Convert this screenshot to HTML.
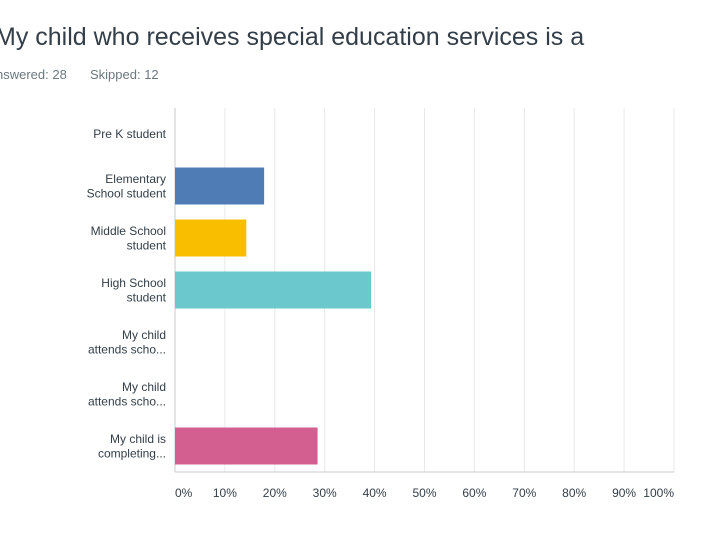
<!DOCTYPE html>
<html><head><meta charset="utf-8"><style>
body{margin:0;background:#fff;width:720px;height:535px;overflow:hidden;font-family:"Liberation Sans",sans-serif}
</style></head><body>
<svg width="720" height="535">
<text x="-5" y="45" font-size="25" fill="#333e48">My child who receives special education services is a</text>
<text x="-4" y="79" font-size="13" fill="#6b787f">nswered: 28</text>
<text x="90" y="79" font-size="13" fill="#6b787f">Skipped: 12</text>
<g id="grid"></g><g id="bars"></g><g id="labels"></g><g id="ticks"></g>
</svg>
<script>
const categories=[["Pre K student"],["Elementary","School student"],["Middle School","student"],["High School","student"],["My child","attends scho..."],["My child","attends scho..."],["My child is","completing..."]];
const values=[0,17.86,14.29,39.29,0,0,28.57];
const colors=["#507cb6","#507cb6","#f9be00","#6bc8cd","#507cb6","#507cb6","#d25f90"];
const tickValues=[0,10,20,30,40,50,60,70,80,90,100];
const tickLabels=["0%","10%","20%","30%","40%","50%","60%","70%","80%","90%","100%"];
const x0=175,x1=674,yTop=108,yBot=472;
const ns="http://www.w3.org/2000/svg";
const xs=v=>x0+(x1-x0)*v/100;
const band=(yBot-yTop)/categories.length;
const yc=i=>yTop+band*(i+0.5);
function mk(t,a,p){const e=document.createElementNS(ns,t);for(const k in a)e.setAttribute(k,a[k]);document.getElementById(p).appendChild(e);return e;}
tickValues.forEach((v,i)=>{
 if(v>0){const g=mk("line",{x1:xs(v),x2:xs(v),y1:yTop,y2:yBot,stroke:"#e8e8e8","stroke-width":1},"grid");
 
 }
 let anchor="middle",x=xs(v);
 if(i===0){anchor="start";x=x0;} if(i===tickValues.length-1){anchor="end";x=x1;}
 const t=mk("text",{x:x,y:497,"font-size":12,fill:"#333e48","text-anchor":anchor},"ticks");
 t.textContent=tickLabels[i];
 
 
});
const ax=mk("line",{x1:x0,x2:x0,y1:yTop,y2:yBot,stroke:"#c8c8c8"},"grid");


const bx=mk("line",{x1:x0,x2:x1,y1:yBot,y2:yBot,stroke:"#c8c8c8"},"grid");


categories.forEach((c,i)=>{
 if(values[i]>0){const r=mk("rect",{x:x0,y:yc(i)-18.5,width:xs(values[i])-x0,height:37,fill:colors[i]},"bars");
 
 }
 const t=mk("text",{x:166,"font-size":12,fill:"#333e48","text-anchor":"end"},"labels");
 
 
 const n=c.length;
 c.forEach((line,j)=>{const s=document.createElementNS(ns,"tspan");s.setAttribute("x",166);s.setAttribute("y",yc(i)+4+(j-(n-1)/2)*14.5);s.textContent=line;t.appendChild(s);});
});
</script>
</body></html>
